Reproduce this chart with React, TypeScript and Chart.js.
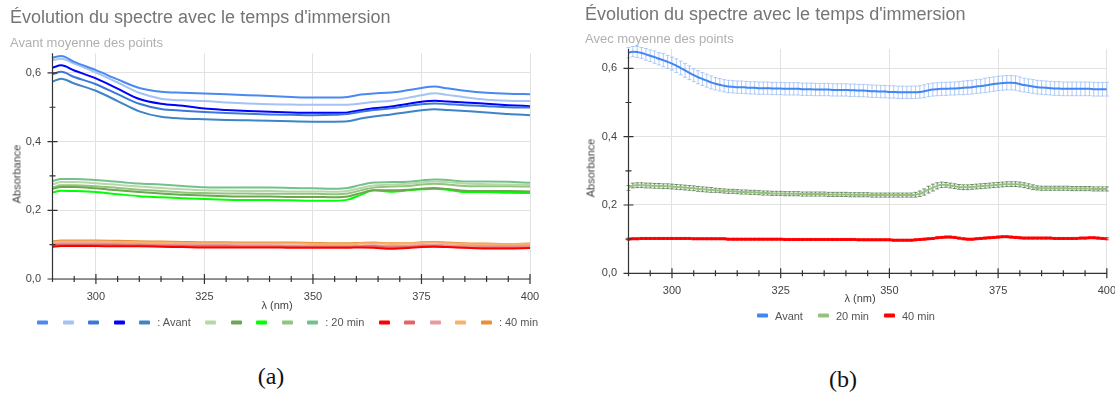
import React, { useEffect, useRef } from 'react';
import { Chart, registerables } from 'chart.js';

Chart.register(...registerables);

const FONT = "Arial, 'Liberation Sans', Helvetica, sans-serif";

// ---------- axis ticks ----------
const X_MAJOR_TICKS = [300, 325, 350, 375, 400];
const X_TICK_LABELS = ['300', '325', '350', '375', '400'];
const X_MINOR_TICKS = [290, 295, 305, 310, 315, 320, 330, 335, 340, 345, 355, 360, 365, 370, 380, 385, 390, 395];
const Y_MAJOR_TICKS = [0, 0.2, 0.4, 0.6];
const Y_TICK_LABELS = ['0,0', '0,2', '0,4', '0,6'];
const Y_MINOR_TICKS = [0.1, 0.3, 0.5];
const X_MIN = 290;
const X_MAX = 400;
const Y_MAX = 0.657;

// ---------- chart (a): individual spectra ----------
const XA = [290, 292, 295, 300, 305, 310, 315, 320, 325, 330, 335, 340, 345, 350, 355, 358, 361, 364, 368, 372, 375, 378, 381, 385, 390, 395, 400];

const A_AVANT_1 = [0.644, 0.649, 0.632, 0.608, 0.581, 0.556, 0.545, 0.542, 0.540, 0.538, 0.535, 0.533, 0.530, 0.528, 0.528, 0.530, 0.537, 0.540, 0.543, 0.550, 0.556, 0.560, 0.555, 0.548, 0.542, 0.539, 0.538];
const A_AVANT_2 = [0.637, 0.641, 0.627, 0.601, 0.572, 0.542, 0.525, 0.520, 0.518, 0.514, 0.511, 0.509, 0.508, 0.507, 0.507, 0.507, 0.511, 0.515, 0.519, 0.528, 0.535, 0.541, 0.536, 0.529, 0.522, 0.519, 0.518];
const A_AVANT_3 = [0.596, 0.603, 0.588, 0.567, 0.538, 0.510, 0.495, 0.490, 0.486, 0.483, 0.481, 0.479, 0.478, 0.477, 0.478, 0.480, 0.487, 0.492, 0.497, 0.504, 0.509, 0.511, 0.509, 0.506, 0.503, 0.500, 0.499];
const A_AVANT_4 = [0.615, 0.622, 0.607, 0.584, 0.554, 0.524, 0.510, 0.504, 0.496, 0.492, 0.489, 0.487, 0.485, 0.484, 0.484, 0.485, 0.491, 0.497, 0.502, 0.510, 0.516, 0.519, 0.517, 0.514, 0.510, 0.506, 0.503];
const A_AVANT_5 = [0.575, 0.583, 0.569, 0.548, 0.518, 0.488, 0.472, 0.467, 0.465, 0.463, 0.462, 0.461, 0.459, 0.458, 0.458, 0.459, 0.467, 0.473, 0.479, 0.486, 0.491, 0.494, 0.492, 0.489, 0.485, 0.480, 0.477];

const A_20_1 = [0.275, 0.282, 0.282, 0.279, 0.274, 0.269, 0.265, 0.261, 0.258, 0.257, 0.256, 0.256, 0.255, 0.255, 0.254, 0.256, 0.265, 0.272, 0.275, 0.277, 0.281, 0.284, 0.282, 0.278, 0.276, 0.275, 0.274];
const A_20_2 = [0.262, 0.268, 0.268, 0.264, 0.258, 0.253, 0.249, 0.245, 0.243, 0.241, 0.240, 0.240, 0.239, 0.239, 0.238, 0.240, 0.250, 0.258, 0.258, 0.260, 0.263, 0.265, 0.262, 0.257, 0.256, 0.256, 0.255];
const A_20_3 = [0.252, 0.257, 0.256, 0.253, 0.247, 0.241, 0.238, 0.235, 0.233, 0.231, 0.230, 0.230, 0.229, 0.228, 0.228, 0.231, 0.245, 0.258, 0.254, 0.258, 0.261, 0.263, 0.260, 0.253, 0.253, 0.251, 0.250];
const A_20_4 = [0.266, 0.273, 0.273, 0.270, 0.265, 0.260, 0.256, 0.252, 0.250, 0.249, 0.249, 0.248, 0.248, 0.248, 0.247, 0.249, 0.258, 0.266, 0.269, 0.271, 0.275, 0.277, 0.275, 0.271, 0.270, 0.270, 0.269];
const A_20_5 = [0.285, 0.291, 0.291, 0.288, 0.283, 0.278, 0.275, 0.271, 0.267, 0.266, 0.266, 0.266, 0.265, 0.264, 0.263, 0.265, 0.274, 0.281, 0.282, 0.283, 0.287, 0.290, 0.288, 0.284, 0.284, 0.283, 0.280];

const A_40_1 = [0.094, 0.096, 0.096, 0.096, 0.095, 0.095, 0.094, 0.093, 0.092, 0.092, 0.092, 0.092, 0.091, 0.091, 0.091, 0.091, 0.092, 0.091, 0.088, 0.090, 0.093, 0.094, 0.093, 0.091, 0.089, 0.089, 0.090];
const A_40_2 = [0.098, 0.100, 0.100, 0.100, 0.099, 0.098, 0.097, 0.096, 0.095, 0.095, 0.094, 0.094, 0.094, 0.093, 0.093, 0.093, 0.094, 0.095, 0.092, 0.093, 0.095, 0.096, 0.094, 0.092, 0.091, 0.091, 0.092];
const A_40_3 = [0.102, 0.104, 0.104, 0.104, 0.103, 0.102, 0.101, 0.100, 0.099, 0.099, 0.098, 0.098, 0.097, 0.097, 0.096, 0.096, 0.097, 0.098, 0.096, 0.097, 0.099, 0.100, 0.098, 0.097, 0.096, 0.096, 0.097];
const A_40_4 = [0.107, 0.109, 0.109, 0.109, 0.108, 0.107, 0.106, 0.105, 0.104, 0.104, 0.103, 0.103, 0.103, 0.102, 0.101, 0.101, 0.103, 0.104, 0.102, 0.103, 0.105, 0.106, 0.104, 0.102, 0.101, 0.101, 0.102];
const A_40_5 = [0.110, 0.112, 0.112, 0.112, 0.111, 0.110, 0.109, 0.108, 0.107, 0.107, 0.106, 0.106, 0.106, 0.105, 0.104, 0.104, 0.105, 0.106, 0.104, 0.104, 0.107, 0.108, 0.106, 0.104, 0.103, 0.102, 0.103];

const A_AVANT_COLORS = ['#4a89f3', '#a4c2f4', '#3c78d8', '#0000ff', '#3d85c6'];
const A_20_COLORS = ['#b6d7a8', '#6aa84f', '#00ff00', '#93c47d', '#72c18c'];
const A_40_COLORS = ['#ff0000', '#e06666', '#ea9999', '#f6b26b', '#e69138'];
const GROUP_LABELS = ['Avant', '20 min', '40 min'];

// ---------- chart (b): averaged spectra with error bars ----------
const XB = [
  290, 291, 292, 293, 294, 295, 296, 297, 298, 299,
  300, 301, 302, 303, 304, 305, 306, 307, 308, 309,
  310, 311, 312, 313, 314, 315, 316, 317, 318, 319,
  320, 321, 322, 323, 324, 325, 326, 327, 328, 329,
  330, 331, 332, 333, 334, 335, 336, 337, 338, 339,
  340, 341, 342, 343, 344, 345, 346, 347, 348, 349,
  350, 351, 352, 353, 354, 355, 356, 357, 358, 359,
  360, 361, 362, 363, 364, 365, 366, 367, 368, 369,
  370, 371, 372, 373, 374, 375, 376, 377, 378, 379,
  380, 381, 382, 383, 384, 385, 386, 387, 388, 389,
  390, 391, 392, 393, 394, 395, 396, 397, 398, 399,
  400,
];

const B_AVANT = [
  0.646, 0.649, 0.648, 0.645, 0.641, 0.637, 0.633, 0.628, 0.624, 0.619,
  0.614, 0.608, 0.601, 0.594, 0.587, 0.580, 0.574, 0.569, 0.564, 0.559,
  0.555, 0.552, 0.549, 0.547, 0.546, 0.545, 0.545, 0.544, 0.543, 0.543,
  0.542, 0.542, 0.542, 0.541, 0.541, 0.541, 0.540, 0.540, 0.540, 0.540,
  0.539, 0.539, 0.539, 0.538, 0.538, 0.538, 0.538, 0.537, 0.537, 0.537,
  0.537, 0.536, 0.536, 0.535, 0.535, 0.534, 0.533, 0.533, 0.532, 0.532,
  0.531, 0.531, 0.530, 0.530, 0.530, 0.530, 0.530, 0.531, 0.533, 0.536,
  0.538, 0.539, 0.540, 0.540, 0.541, 0.541, 0.542, 0.543, 0.544, 0.545,
  0.547, 0.548, 0.550, 0.552, 0.554, 0.556, 0.557, 0.558, 0.558, 0.557,
  0.554, 0.551, 0.549, 0.547, 0.545, 0.544, 0.543, 0.542, 0.541, 0.541,
  0.540, 0.540, 0.540, 0.540, 0.540, 0.540, 0.540, 0.539, 0.539, 0.539,
  0.539,
];
const B_AVANT_ERR = [
  0.015, 0.015, 0.016, 0.016, 0.017, 0.017, 0.018, 0.018, 0.019, 0.019,
  0.019, 0.020, 0.020, 0.020, 0.020, 0.019, 0.019, 0.019, 0.019, 0.019,
  0.018, 0.018, 0.018, 0.018, 0.018, 0.018, 0.018, 0.018, 0.018, 0.018,
  0.018, 0.018, 0.018, 0.018, 0.018, 0.018, 0.018, 0.018, 0.018, 0.018,
  0.018, 0.018, 0.018, 0.018, 0.018, 0.018, 0.018, 0.018, 0.018, 0.018,
  0.018, 0.018, 0.018, 0.018, 0.018, 0.018, 0.018, 0.018, 0.018, 0.018,
  0.018, 0.018, 0.018, 0.018, 0.018, 0.018, 0.018, 0.018, 0.019, 0.019,
  0.019, 0.019, 0.019, 0.019, 0.019, 0.019, 0.019, 0.020, 0.020, 0.020,
  0.020, 0.020, 0.021, 0.021, 0.021, 0.021, 0.021, 0.021, 0.021, 0.021,
  0.021, 0.020, 0.020, 0.020, 0.020, 0.020, 0.020, 0.020, 0.020, 0.020,
  0.020, 0.020, 0.020, 0.020, 0.020, 0.020, 0.020, 0.020, 0.020, 0.020,
  0.020,
];

const B_20 = [
  0.250, 0.257, 0.258, 0.258, 0.257, 0.257, 0.256, 0.256, 0.255, 0.255,
  0.254, 0.253, 0.252, 0.251, 0.250, 0.249, 0.247, 0.246, 0.245, 0.244,
  0.243, 0.242, 0.241, 0.240, 0.240, 0.239, 0.238, 0.238, 0.237, 0.237,
  0.236, 0.235, 0.235, 0.234, 0.234, 0.234, 0.233, 0.233, 0.233, 0.233,
  0.232, 0.232, 0.232, 0.232, 0.232, 0.232, 0.231, 0.231, 0.231, 0.231,
  0.231, 0.230, 0.230, 0.230, 0.230, 0.230, 0.229, 0.229, 0.229, 0.229,
  0.229, 0.229, 0.229, 0.229, 0.229, 0.229, 0.230, 0.233, 0.238, 0.245,
  0.251, 0.256, 0.259, 0.259, 0.257, 0.255, 0.253, 0.252, 0.252, 0.253,
  0.254, 0.255, 0.256, 0.257, 0.258, 0.259, 0.260, 0.261, 0.261, 0.261,
  0.260, 0.258, 0.255, 0.252, 0.250, 0.249, 0.249, 0.249, 0.249, 0.249,
  0.249, 0.249, 0.248, 0.248, 0.248, 0.248, 0.248, 0.247, 0.247, 0.247,
  0.247,
];
const B_20_ERR = [
  0.007, 0.007, 0.007, 0.007, 0.007, 0.007, 0.007, 0.007, 0.007, 0.007,
  0.007, 0.007, 0.007, 0.007, 0.007, 0.007, 0.007, 0.007, 0.007, 0.007,
  0.006, 0.006, 0.006, 0.006, 0.006, 0.006, 0.006, 0.006, 0.006, 0.006,
  0.006, 0.006, 0.006, 0.006, 0.006, 0.006, 0.006, 0.006, 0.006, 0.006,
  0.006, 0.006, 0.006, 0.006, 0.006, 0.006, 0.006, 0.006, 0.006, 0.006,
  0.006, 0.006, 0.006, 0.006, 0.006, 0.006, 0.006, 0.006, 0.006, 0.006,
  0.006, 0.006, 0.006, 0.006, 0.006, 0.006, 0.007, 0.008, 0.009, 0.010,
  0.010, 0.009, 0.008, 0.007, 0.007, 0.007, 0.007, 0.007, 0.007, 0.007,
  0.007, 0.007, 0.007, 0.007, 0.007, 0.007, 0.007, 0.007, 0.007, 0.007,
  0.007, 0.007, 0.007, 0.007, 0.006, 0.006, 0.006, 0.006, 0.006, 0.006,
  0.006, 0.006, 0.006, 0.006, 0.006, 0.006, 0.006, 0.006, 0.006, 0.006,
  0.006,
];

const B_40 = [
  0.100, 0.101, 0.101, 0.102, 0.102, 0.102, 0.102, 0.102, 0.102, 0.102,
  0.102, 0.102, 0.102, 0.102, 0.102, 0.101, 0.101, 0.101, 0.101, 0.101,
  0.101, 0.101, 0.101, 0.100, 0.100, 0.100, 0.100, 0.100, 0.100, 0.100,
  0.100, 0.100, 0.100, 0.100, 0.100, 0.100, 0.099, 0.099, 0.099, 0.099,
  0.099, 0.099, 0.099, 0.099, 0.099, 0.099, 0.099, 0.099, 0.099, 0.099,
  0.099, 0.099, 0.099, 0.098, 0.098, 0.098, 0.098, 0.098, 0.098, 0.098,
  0.098, 0.097, 0.097, 0.097, 0.097, 0.097, 0.098, 0.099, 0.100, 0.101,
  0.102, 0.104, 0.105, 0.106, 0.106, 0.105, 0.103, 0.101, 0.100, 0.100,
  0.101, 0.102, 0.103, 0.104, 0.105, 0.106, 0.107, 0.107, 0.106, 0.105,
  0.104, 0.103, 0.103, 0.103, 0.103, 0.103, 0.103, 0.103, 0.102, 0.102,
  0.102, 0.102, 0.102, 0.102, 0.103, 0.103, 0.104, 0.104, 0.103, 0.102,
  0.101,
];
const B_40_ERR = [
  0.003, 0.003, 0.003, 0.003, 0.003, 0.003, 0.003, 0.003, 0.003, 0.003,
  0.003, 0.003, 0.003, 0.003, 0.003, 0.003, 0.003, 0.003, 0.003, 0.003,
  0.003, 0.003, 0.003, 0.003, 0.003, 0.003, 0.003, 0.003, 0.003, 0.003,
  0.003, 0.003, 0.003, 0.003, 0.003, 0.003, 0.003, 0.003, 0.003, 0.003,
  0.003, 0.003, 0.003, 0.003, 0.003, 0.003, 0.003, 0.003, 0.003, 0.003,
  0.003, 0.003, 0.003, 0.003, 0.003, 0.003, 0.003, 0.003, 0.003, 0.003,
  0.003, 0.003, 0.003, 0.003, 0.003, 0.003, 0.003, 0.003, 0.003, 0.003,
  0.003, 0.003, 0.003, 0.003, 0.003, 0.003, 0.003, 0.003, 0.003, 0.003,
  0.003, 0.003, 0.003, 0.003, 0.003, 0.003, 0.003, 0.003, 0.003, 0.003,
  0.003, 0.003, 0.003, 0.003, 0.003, 0.003, 0.003, 0.003, 0.003, 0.003,
  0.003, 0.003, 0.003, 0.003, 0.003, 0.003, 0.003, 0.003, 0.003, 0.003,
  0.003,
];

const B_COLORS = ['#4285f4', '#93c47d', '#ff0000'];
const B_ERR_COLORS = ['rgba(150,185,245,0.75)', 'rgba(70,100,60,0.7)', 'rgba(255,0,0,0.9)'];

// ---------- plugins ----------
function makeAxesPlugin() {
  return {
    id: 'crossAxes',
    afterDatasetsDraw(chart: any) {
      const ctx = chart.ctx;
      const xs = chart.scales.x;
      const ys = chart.scales.y;
      const x0 = xs.getPixelForValue(X_MIN);
      const x1 = xs.getPixelForValue(X_MAX);
      const y0 = ys.getPixelForValue(0);
      const y1 = ys.getPixelForValue(Y_MAX);
      ctx.save();
      ctx.strokeStyle = '#333';
      ctx.lineWidth = 1.2;
      ctx.beginPath();
      ctx.moveTo(x0, y1);
      ctx.lineTo(x0, y0);
      ctx.lineTo(x1, y0);
      X_MAJOR_TICKS.forEach((v) => {
        const p = xs.getPixelForValue(v);
        ctx.moveTo(p, y0 - 5);
        ctx.lineTo(p, y0 + 5);
      });
      X_MINOR_TICKS.forEach((v) => {
        const p = xs.getPixelForValue(v);
        ctx.moveTo(p, y0 - 3);
        ctx.lineTo(p, y0 + 3);
      });
      Y_MAJOR_TICKS.forEach((v) => {
        const p = ys.getPixelForValue(v);
        ctx.moveTo(x0 - 5, p);
        ctx.lineTo(x0 + 5, p);
      });
      Y_MINOR_TICKS.forEach((v) => {
        const p = ys.getPixelForValue(v);
        ctx.moveTo(x0 - 3, p);
        ctx.lineTo(x0 + 3, p);
      });
      ctx.stroke();
      ctx.restore();
    },
  };
}

type ErrSeries = { x: number[]; mean: number[]; err: number[]; color: string; cap: number };

function makeErrorPlugin(series: ErrSeries[]) {
  return {
    id: 'errorBars',
    beforeDatasetsDraw(chart: any) {
      const ctx = chart.ctx;
      const xs = chart.scales.x;
      const ys = chart.scales.y;
      ctx.save();
      series.forEach((s) => {
        ctx.strokeStyle = s.color;
        ctx.lineWidth = 1;
        ctx.beginPath();
        s.x.forEach((xv, i) => {
          const px = xs.getPixelForValue(xv);
          const lo = ys.getPixelForValue(s.mean[i] - s.err[i]);
          const hi = ys.getPixelForValue(s.mean[i] + s.err[i]);
          ctx.moveTo(px, lo);
          ctx.lineTo(px, hi);
          ctx.moveTo(px - s.cap, lo);
          ctx.lineTo(px + s.cap, lo);
          ctx.moveTo(px - s.cap, hi);
          ctx.lineTo(px + s.cap, hi);
        });
        ctx.stroke();
      });
      ctx.restore();
    },
  };
}

function buildOptions(padTop: number, padRight: number, yWidth: number, xHeight: number) {
  return {
    animation: false,
    responsive: false,
    maintainAspectRatio: false,
    events: [],
    layout: { padding: { left: 0, top: padTop, right: padRight, bottom: 0 } },
    plugins: { legend: { display: false }, title: { display: false }, tooltip: { enabled: false } },
    scales: {
      x: {
        type: 'linear',
        min: X_MIN,
        max: X_MAX,
        afterBuildTicks: (s: any) => {
          s.ticks = X_MAJOR_TICKS.map((v) => ({ value: v }));
        },
        afterFit: (s: any) => {
          s.height = xHeight;
        },
        grid: { color: '#e2e2e2', lineWidth: 1, drawTicks: false },
        border: { display: false },
        ticks: {
          autoSkip: false,
          maxRotation: 0,
          minRotation: 0,
          padding: 11,
          color: '#444',
          font: { family: FONT, size: 11 },
          callback: (_v: any, i: number) => X_TICK_LABELS[i],
        },
      },
      y: {
        type: 'linear',
        min: 0,
        max: Y_MAX,
        afterBuildTicks: (s: any) => {
          s.ticks = Y_MAJOR_TICKS.map((v) => ({ value: v }));
        },
        afterFit: (s: any) => {
          s.width = yWidth;
        },
        grid: { color: '#e2e2e2', lineWidth: 1, drawTicks: false },
        border: { display: false },
        ticks: {
          autoSkip: false,
          padding: 11.5,
          color: '#444',
          font: { family: FONT, size: 11 },
          callback: (_v: any, i: number) => Y_TICK_LABELS[i],
        },
      },
    },
  };
}

const A_GROUPS = [
  { label: GROUP_LABELS[0], colors: A_AVANT_COLORS, series: [A_AVANT_1, A_AVANT_2, A_AVANT_3, A_AVANT_4, A_AVANT_5] },
  { label: GROUP_LABELS[1], colors: A_20_COLORS, series: [A_20_1, A_20_2, A_20_3, A_20_4, A_20_5] },
  { label: GROUP_LABELS[2], colors: A_40_COLORS, series: [A_40_1, A_40_2, A_40_3, A_40_4, A_40_5] },
];

const B_SERIES = [
  { label: GROUP_LABELS[0], mean: B_AVANT, err: B_AVANT_ERR, width: 2 },
  { label: GROUP_LABELS[1], mean: B_20, err: B_20_ERR, width: 2 },
  { label: GROUP_LABELS[2], mean: B_40, err: B_40_ERR, width: 2.5 },
];

function Text(props: {
  x: number; y: number; size: number; color: string; children: any;
  center?: boolean; rotate?: boolean; family?: string;
}) {
  const { x, y, size, color, children, center, rotate, family } = props;
  const transform = center ? `translate(-50%, -50%)${rotate ? ' rotate(-90deg)' : ''}` : undefined;
  return (
    <div
      style={{
        position: 'absolute',
        left: x,
        top: y,
        fontFamily: family || FONT,
        fontSize: size,
        lineHeight: `${size}px`,
        color,
        whiteSpace: 'nowrap',
        transform,
      }}
    >
      {children}
    </div>
  );
}

function LegendBox({ color, mr }: { color: string; mr: number }) {
  return (
    <span
      style={{
        display: 'inline-block',
        width: 11,
        height: 4,
        borderRadius: 1,
        background: color,
        marginRight: mr,
        flex: '0 0 auto',
      }}
    />
  );
}

export default function App() {
  const refA = useRef<HTMLCanvasElement>(null);
  const refB = useRef<HTMLCanvasElement>(null);

  useEffect(() => {
    const datasetsA: any[] = [];
    A_GROUPS.forEach((g) => {
      g.series.forEach((vals, k) => {
        datasetsA.push({
          label: `${g.label} ${k + 1}`,
          data: XA.map((x, i) => ({ x, y: vals[i] })),
          borderColor: g.colors[k],
          backgroundColor: g.colors[k],
          borderWidth: 2,
          pointRadius: 0,
          fill: false,
          cubicInterpolationMode: 'monotone',
        });
      });
    });
    const chartA = new Chart(refA.current as HTMLCanvasElement, {
      type: 'line',
      data: { datasets: datasetsA },
      options: buildOptions(53.3, 27, 52.5, 21) as any,
      plugins: [makeAxesPlugin()],
    });

    const datasetsB = B_SERIES.map((s, k) => ({
      label: s.label,
      data: XB.map((x, i) => ({ x, y: s.mean[i] })),
      borderColor: B_COLORS[k],
      backgroundColor: B_COLORS[k],
      borderWidth: s.width,
      pointRadius: 0,
      fill: false,
      cubicInterpolationMode: 'monotone',
    }));
    const errSeries: ErrSeries[] = B_SERIES.map((s, k) => ({
      x: XB,
      mean: s.mean,
      err: s.err,
      color: B_ERR_COLORS[k],
      cap: 2,
    }));
    const chartB = new Chart(refB.current as HTMLCanvasElement, {
      type: 'line',
      data: { datasets: datasetsB },
      options: buildOptions(48.9, 19, 71.5, 26.7) as any,
      plugins: [makeErrorPlugin(errSeries), makeAxesPlugin()],
    });

    return () => {
      chartA.destroy();
      chartB.destroy();
    };
  }, []);

  return (
    <div
      style={{
        position: 'fixed',
        left: 0,
        top: 0,
        width: 1115,
        height: 396,
        overflow: 'hidden',
        background: '#fff',
      }}
    >
      <canvas ref={refA} width={557} height={300} style={{ position: 'absolute', left: 0, top: 0 }} />
      <canvas ref={refB} width={570} height={300} style={{ position: 'absolute', left: 557, top: 0 }} />

      {/* chart (a) texts */}
      <Text x={10} y={8} size={18} color="#757575">Évolution du spectre avec le temps d'immersion</Text>
      <Text x={10} y={35.5} size={13} color="#b0b0b0">Avant moyenne des points</Text>
      <Text x={17} y={174} size={11} color="#444" center rotate>Absorbance</Text>
      <Text x={277} y={304.5} size={11} color="#444" center>λ (nm)</Text>
      <div
        style={{
          position: 'absolute',
          left: 37.3,
          top: 322.3,
          transform: 'translateY(-50%)',
          display: 'flex',
          alignItems: 'center',
          fontFamily: FONT,
          fontSize: 11,
          lineHeight: '11px',
          color: '#555',
          whiteSpace: 'nowrap',
        }}
      >
        {A_GROUPS.map((g) => (
          <React.Fragment key={g.label}>
            {g.colors.map((c, k) => (
              <LegendBox key={c} color={c} mr={k === g.colors.length - 1 ? 7 : 14.5} />
            ))}
            <span style={{ marginRight: 14.5 }}>{`: ${g.label}`}</span>
          </React.Fragment>
        ))}
      </div>
      <Text x={271} y={376} size={24} color="#111" center family="'Liberation Serif', 'Times New Roman', serif">(a)</Text>

      {/* chart (b) texts */}
      <Text x={585} y={5} size={18} color="#757575">Évolution du spectre avec le temps d'immersion</Text>
      <Text x={585} y={32} size={13} color="#b0b0b0">Avec moyenne des points</Text>
      <Text x={591} y={168.3} size={11} color="#444" center rotate>Absorbance</Text>
      <Text x={860} y={298.3} size={11} color="#444" center>λ (nm)</Text>
      <div
        style={{
          position: 'absolute',
          left: 757,
          top: 315.7,
          transform: 'translateY(-50%)',
          display: 'flex',
          alignItems: 'center',
          fontFamily: FONT,
          fontSize: 11,
          lineHeight: '11px',
          color: '#555',
          whiteSpace: 'nowrap',
        }}
      >
        {B_SERIES.map((s, k) => (
          <React.Fragment key={s.label}>
            <LegendBox color={B_COLORS[k]} mr={7} />
            <span style={{ marginRight: 15 }}>{s.label}</span>
          </React.Fragment>
        ))}
      </div>
      <Text x={843} y={379} size={24} color="#111" center family="'Liberation Serif', 'Times New Roman', serif">(b)</Text>
    </div>
  );
}
